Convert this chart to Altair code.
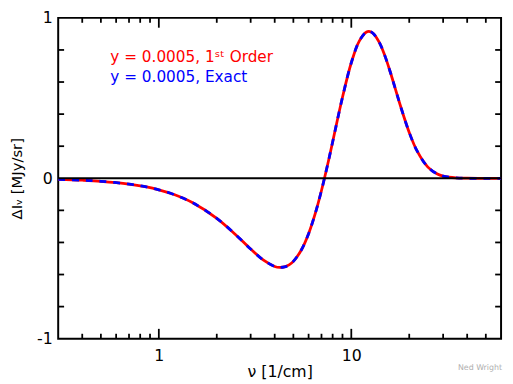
import altair as alt
import pandas as pd

# frequency [1/cm] and Delta I_nu [MJy/sr]
nu = [0.3, 0.4, 0.5, 0.7, 0.85, 1.0, 1.2, 1.5, 2.0, 2.5, 3.0, 3.5, 4.0, 4.25, 4.5, 4.75,
      5.0, 5.5, 6.0, 6.5, 7.0, 7.5, 8.0, 9.0, 10.0, 11.0, 12.0, 12.5, 13.0, 14.0, 15.0,
      16.0, 17.0, 18.0, 20.0, 22.0, 25.0, 28.0, 30.0, 35.0, 40.0, 50.0, 60.0]
dI = [-0.0067, -0.0120, -0.0186, -0.0360, -0.0526, -0.0718, -0.1014, -0.1525, -0.2495,
      -0.3501, -0.4411, -0.5106, -0.5496, -0.5558, -0.5525, -0.5399, -0.5179, -0.4472,
      -0.3453, -0.2190, -0.0762, 0.0749, 0.2265, 0.5049, 0.7201, 0.8554, 0.9122, 0.9147,
      0.9031, 0.8456, 0.7583, 0.6563, 0.5516, 0.4521, 0.2856, 0.1688, 0.0698, 0.0264,
      0.0133, 0.0022, 0.0003, 0.0, 0.0]

x_major = [1, 10]
x_minor = [0.4, 0.5, 0.6, 0.7, 0.8, 0.9, 2, 3, 4, 5, 6, 7, 8, 9, 20, 30, 40, 50]
y_minor = [-0.8, -0.6, -0.4, -0.2, 0.2, 0.4, 0.6, 0.8]
y_labels = [-1, 0, 1]

legend_red = "y = 0.0005, 1ˢᵗ Order"
legend_blue = "y = 0.0005, Exact"
credit = "Ned Wright"

W, H = 450, 326
FONT = "DejaVu Sans"

curve = pd.DataFrame({"nu": nu, "dI": dI})
xmaj = pd.DataFrame({"v": x_major})
xmin = pd.DataFrame({"v": x_minor})
ymin = pd.DataFrame({"v": y_minor})

xscale = alt.Scale(type="log", domain=[0.3, 60], nice=False)
yscale = alt.Scale(domain=[-1, 1], nice=False)

xaxis = alt.Axis(values=x_major, format="d", title="ν [1/cm]", grid=False, domain=False,
                 ticks=False, labelPadding=9, titlePadding=0, labelFontSize=16,
                 titleFontSize=16, labelFont=FONT, titleFont=FONT, titleFontWeight="normal",
                 labelColor="black", titleColor="black")
yaxis = alt.Axis(values=y_labels, labelExpr="'' + datum.value", title="ΔIᵥ [MJy/sr]",
                 grid=False, domain=False, ticks=False, labelPadding=6, titlePadding=12,
                 labelFontSize=16, titleFontSize=15, labelFont=FONT, titleFont=FONT,
                 titleFontWeight="normal", labelColor="black", titleColor="black")

red = alt.Chart(curve).mark_line(color="#ff0000", strokeWidth=2.8, interpolate="catmull-rom").encode(
    x=alt.X("nu:Q", scale=xscale, axis=xaxis),
    y=alt.Y("dI:Q", scale=yscale, axis=yaxis),
)
blue = alt.Chart(curve).mark_line(color="#0000ff", strokeWidth=2.8, strokeDash=[7, 7],
                                  interpolate="catmull-rom").encode(
    x=alt.X("nu:Q", scale=xscale), y=alt.Y("dI:Q", scale=yscale))

zero = alt.Chart(pd.DataFrame({"z": [0]})).mark_rule(color="black", strokeWidth=2).encode(
    y=alt.Y("z:Q", scale=yscale))

def xticks(df, length):
    bot = alt.Chart(df).mark_rule(color="black", strokeWidth=1.8).encode(
        x=alt.X("v:Q", scale=xscale), y=alt.value(H), y2=alt.value(H - length))
    top = alt.Chart(df).mark_rule(color="black", strokeWidth=1.8).encode(
        x=alt.X("v:Q", scale=xscale), y=alt.value(0), y2=alt.value(length))
    return bot + top

yt_left = alt.Chart(ymin).mark_rule(color="black", strokeWidth=1.8).encode(
    y=alt.Y("v:Q", scale=yscale), x=alt.value(0), x2=alt.value(6))
yt_right = alt.Chart(ymin).mark_rule(color="black", strokeWidth=1.8).encode(
    y=alt.Y("v:Q", scale=yscale), x=alt.value(W), x2=alt.value(W - 6))

leg_r = alt.Chart(pd.DataFrame({"t": [legend_red]})).mark_text(
    align="left", baseline="middle", font=FONT, fontSize=15.5, color="#ff0000").encode(
    text="t:N", x=alt.value(53), y=alt.value(40))
leg_b = alt.Chart(pd.DataFrame({"t": [legend_blue]})).mark_text(
    align="left", baseline="middle", font=FONT, fontSize=15.5, color="#0000ff").encode(
    text="t:N", x=alt.value(53), y=alt.value(60))
cred = alt.Chart(pd.DataFrame({"t": [credit]})).mark_text(
    align="right", baseline="middle", font=FONT, fontSize=8, color="#b0b0b0").encode(
    text="t:N", x=alt.value(W + 1), y=alt.value(H + 30))

chart = alt.layer(
    red, blue, zero, xticks(xmin, 5), xticks(xmaj, 10), yt_left, yt_right,
    leg_r, leg_b, cred
).properties(
    width=W, height=H,
    autosize=alt.AutoSizeParams(type="none"),
    padding={"left": 51, "top": 7, "right": 4, "bottom": 42},
).configure(background="white").configure_view(stroke="black", strokeWidth=2)

chart.save("out.html", embed_options={"renderer": "svg", "actions": False})
